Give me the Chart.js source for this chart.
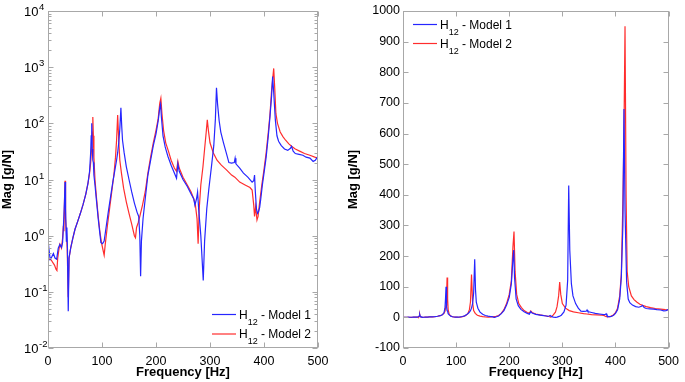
<!DOCTYPE html>
<html><head><meta charset="utf-8">
<script src="https://cdn.jsdelivr.net/npm/chart.js@4.4.1/dist/chart.umd.min.js"></script>
<style>
html,body{margin:0;padding:0;background:#fff;}
#w1{position:absolute;left:0;top:0;width:342px;height:382px;}
#w2{position:absolute;left:342px;top:0;width:343px;height:382px;}
</style></head><body>
<div id="w1"><canvas id="c1"></canvas></div>
<div id="w2"><canvas id="c2"></canvas></div>
<script>
// ---------- data ----------
const freqTicks = [0, 100, 200, 300, 400, 500];
const logTicks = [0.01, 0.1, 1, 10, 100, 1000, 10000];
const logExps = ['-2', '-1', '0', '1', '2', '3', '4'];
const linTicks = [-100, 0, 100, 200, 300, 400, 500, 600, 700, 800, 900, 1000];
const seriesNames = ['Model 1', 'Model 2'];

const model1Freq = [0,2,4,7,10,13,16,19,22,25,27,29,30.5,31.5,32.5,34,35,36,37.5,39,42,46,50,55,60,65,70,74,77,79,80,81,82,83,84,85,87,90,93,96,98,101,104,108,112,116,120,124,127,129,131,133,135,136.5,138,141,145,150,155,160,165,168,170,171.5,173,176,180,185,190,195,200,204,207,208.5,210,213,217,222,228,234,238,240.5,243,250,258,265,270,272,275,277,279,283,287.5,290,294,298,303,307,310,312,314,317,320,325,330,335,340,345,346.5,348,355,362,370,378,381,382.5,384,386,388,390,392,394,397,400,404,408,411,414,416,418,421,424,427,432,438,444,449,451,454,458,465,472,478,485,491,495,500];
const model1Mag = [0.85,0.55,0.38,0.42,0.48,0.4,0.38,0.6,0.7,0.62,0.75,1.8,4,9,3,0.8,1.4,0.6,0.045,0.4,0.6,0.9,1.3,1.8,2.5,3.6,5.5,8.5,14,30,60,100,35,22,20,12,8,4,2,1.1,0.75,0.72,0.8,1.5,2.8,5,9,15,22,30,45,80,190,90,50,30,17,10,6,3.8,2.6,2.2,1,0.19,0.8,2,4.5,12,22,40,65,110,190,220,130,60,38,26,18,13,10.5,19,14,10,7.5,5.5,4.5,3.5,4.5,6,3,1,0.16,0.8,3,7,18,40,120,430,220,110,70,45,30,20,19.5,20,24,19,16,13,11,9,9.5,12,6,3,2.5,2.7,3.2,4.5,8,13,25,60,130,300,680,350,115,60,48,40,35,33,36,39,32,29,28,27,25,24,21,22,26];

const model2Freq = [0,3,6,9,12,15,16.5,18,20,22,25,27,28.5,29.5,30.5,31.5,32.5,34,35.5,37.5,39,42,46,50,55,60,65,70,74,77,79,81,82,83,84,85,87,90,93,96,99,102,104,106,110,114,118,122,125,127,129,131,133,136,140,145,150,155,160,162,164,167,170,175,180,185,190,195,200,204,207,209,211,214,218,223,228,234,238,240.5,243,250,258,265,270,273,276,278,280,283,287,290,293,295,297,300,306,313,321,330,340,346,355,365,374,378,381,382.5,384.5,387,389,392,396,400,404,408,411,414,416,418,420,422,425,430,435,440,446,451,458,466,475,485,494,500];
const model2Mag = [0.4,0.38,0.37,0.33,0.3,0.25,0.24,0.4,0.55,0.7,0.6,0.9,1.5,1.2,4,9.5,2,1.2,0.6,0.08,0.4,0.6,0.9,1.3,1.8,2.5,3.6,5.5,8.5,13,20,40,70,130,60,25,10,4.5,2.2,1.2,0.75,0.55,0.45,0.7,1.5,3,6,12,25,50,140,50,22,13,7,4,2.5,1.6,1.0,0.92,1.4,1.7,2.2,3.5,6,13,25,45,75,120,230,280,150,75,45,32,22,16,14,21,16,11,8,6,4.5,3.5,2,0.72,3,8,17,35,70,115,75,45,30,22,18,15,12,11,9,8,7.2,6.5,3.5,2.2,3.3,1.9,2.2,4,8,15,30,70,140,380,600,950,400,150,100,70,58,50,43,39,35,32,29,27,25,24];

const BLUE = 'rgb(38,38,255)';
const RED = 'rgb(255,45,45)';
const FONT = "'Liberation Sans', Arial, Helvetica, sans-serif";

function pts(fr, mg) { return fr.map((f, i) => ({x: f, y: mg[i]})); }

Chart.defaults.font.family = FONT;
Chart.defaults.color = '#000';

// ---------- MATLAB-like box, inner ticks, custom labels and legend ----------
const matlabAxes = {
  id: 'matlabAxes',
  afterDatasetsDraw(chart, args, o) {
    const {ctx, chartArea: a, scales: {x, y}} = chart;
    ctx.save();
    const L = Math.round(a.left) + 0.5, R = Math.round(a.right) - 0.5;
    const T = Math.round(a.top) + 0.5, B = Math.round(a.bottom) - 0.5;
    ctx.strokeStyle = '#a8a8a8';
    ctx.lineWidth = 1;
    ctx.strokeRect(L, T, R - L, B - T);
    ctx.beginPath();
    freqTicks.forEach(v => {
      const px = Math.round(x.getPixelForValue(v)) + 0.5;
      ctx.moveTo(px, B); ctx.lineTo(px, B - 5);
      ctx.moveTo(px, T); ctx.lineTo(px, T + 5);
    });
    o.yTicks.forEach(v => {
      const py = Math.round(y.getPixelForValue(v)) + 0.5;
      ctx.moveTo(L, py); ctx.lineTo(L + 5, py);
      ctx.moveTo(R, py); ctx.lineTo(R - 5, py);
    });
    if (o.log) {
      for (let k = 0; k < logTicks.length - 1; k++) {
        for (let m = 2; m <= 9; m++) {
          const py = Math.round(y.getPixelForValue(m * logTicks[k])) + 0.5;
          ctx.moveTo(L, py); ctx.lineTo(L + 3, py);
          ctx.moveTo(R, py); ctx.lineTo(R - 3, py);
        }
      }
    }
    ctx.stroke();

    ctx.fillStyle = '#000';
    if (o.log) {
      logTicks.forEach((v, i) => {
        const py = y.getPixelForValue(v);
        ctx.font = '13px ' + FONT;
        ctx.textAlign = 'right';
        ctx.textBaseline = 'alphabetic';
        ctx.fillText('10', 38.5, py + 5);
        ctx.font = '9.5px ' + FONT;
        ctx.textAlign = 'left';
        ctx.fillText(logExps[i], 39, py - 1);
      });
    }
    // legend
    const lg = o.legend;
    [BLUE, RED].forEach((c, i) => {
      const ly = lg.y[i];
      ctx.strokeStyle = c;
      ctx.lineWidth = 1.2;
      ctx.beginPath();
      ctx.moveTo(lg.x0, ly + 0.5); ctx.lineTo(lg.x1, ly + 0.5);
      ctx.stroke();
      ctx.fillStyle = '#000';
      ctx.textAlign = 'left';
      ctx.textBaseline = 'alphabetic';
      let tx = lg.tx;
      ctx.font = '12px ' + FONT;
      ctx.fillText('H', tx, ly + 4.6);
      tx += ctx.measureText('H').width;
      ctx.font = '9px ' + FONT;
      ctx.fillText('12', tx, ly + 10.5);
      tx += ctx.measureText('12').width;
      ctx.font = '12px ' + FONT;
      ctx.fillText(' - ' + seriesNames[i], tx, ly + 4.6);
    });
    ctx.restore();
  }
};

function makeChart(id, isLog, yAxisWidth, padRight, titlePad, legend) {
  const yScale = isLog ? {
    type: 'logarithmic', min: 0.01, max: 10000,
    grid: {display: false, drawTicks: false}, border: {display: false},
    ticks: {display: false},
    title: {display: true, text: 'Mag [g/N]', font: {size: 13, weight: 'bold'}, padding: {top: titlePad, bottom: 0}},
    afterFit: s => { s.width = yAxisWidth; }
  } : {
    type: 'linear', min: -100, max: 1000,
    grid: {display: false, drawTicks: false}, border: {display: false},
    ticks: {stepSize: 100, padding: 3, font: {size: 12.5}, color: '#000', callback: v => String(v)},
    afterBuildTicks: s => { s.ticks = linTicks.map(v => ({value: v})); },
    title: {display: true, text: 'Mag [g/N]', font: {size: 13, weight: 'bold'}, padding: {top: titlePad, bottom: 0}},
    afterFit: s => { s.width = yAxisWidth; }
  };
  return new Chart(document.getElementById(id), {
    type: 'line',
    data: {
      datasets: [
        {label: 'H12 - ' + seriesNames[0], data: pts(model1Freq, model1Mag), borderColor: BLUE, borderWidth: 1.2, pointRadius: 0, tension: 0, fill: false},
        {label: 'H12 - ' + seriesNames[1], data: pts(model2Freq, model2Mag), borderColor: RED, borderWidth: 1.2, pointRadius: 0, tension: 0, fill: false}
      ]
    },
    options: {
      responsive: true, maintainAspectRatio: false, animation: false,
      layout: {padding: {left: 0, top: 11, right: padRight, bottom: 0}},
      plugins: {
        legend: {display: false}, tooltip: {enabled: false},
        matlabAxes: {log: isLog, yTicks: isLog ? logTicks : linTicks, legend: legend}
      },
      scales: {
        x: {
          type: 'linear', min: 0, max: 500,
          grid: {display: false, drawTicks: false}, border: {display: false},
          ticks: {stepSize: 100, padding: 6, font: {size: 12.5}, color: '#000', maxRotation: 0, callback: v => String(v)},
          afterBuildTicks: s => { s.ticks = freqTicks.map(v => ({value: v})); },
          title: {display: true, text: 'Frequency [Hz]', font: {size: 13, weight: 'bold'}, padding: {top: 0, bottom: 2}},
          afterFit: s => { s.height = 34; }
        },
        y: yScale
      }
    },
    plugins: [matlabAxes]
  });
}

makeChart('c1', true, 48, 24, 0, {x0: 212, x1: 236, tx: 239, y: [314, 333.5]});
makeChart('c2', false, 61, 12, 4, {x0: 71, x1: 95, tx: 98, y: [24, 43]});
</script>
</body></html>
